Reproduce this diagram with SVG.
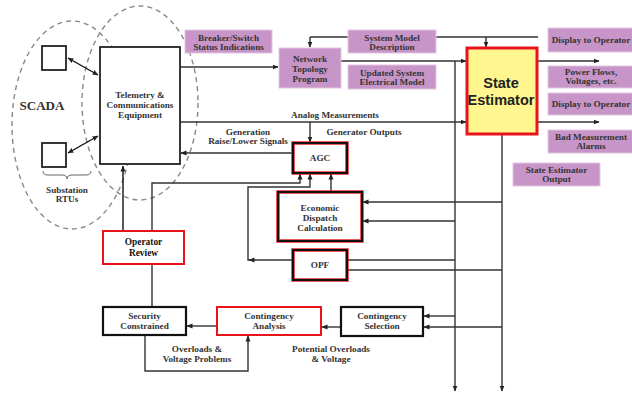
<svg xmlns="http://www.w3.org/2000/svg" width="632" height="394" viewBox="0 0 632 394">
<defs>
<marker id="ah" markerWidth="6" markerHeight="6" refX="5.5" refY="3" orient="auto-start-reverse" markerUnits="userSpaceOnUse"><path d="M0,0.5 L6,3 L0,5.5 z" fill="#222"/></marker>
<style>
.t{font-family:"Liberation Serif","Times New Roman",serif;font-weight:bold;font-size:9.2px;fill:#333;text-anchor:middle}
.tb{font-family:"Liberation Serif","Times New Roman",serif;font-weight:bold;font-size:9.4px;fill:#111;text-anchor:middle}
.p{fill:#c895c8;stroke:#e2c6e2;stroke-width:1}
.c{fill:none;stroke:#333;stroke-width:1.4}
.a{marker-end:url(#ah)}
.bk{fill:#fff;stroke:#111;stroke-width:2.2}
.rd{fill:#fff;stroke:#e8141b;stroke-width:2}
.dash{fill:none;stroke:#888;stroke-width:1.4;stroke-dasharray:5 4}
</style>
</defs>
<rect width="632" height="394" fill="#fff"/>

<g id="scada-ellipses">
<ellipse class="dash" cx="72" cy="125" rx="60" ry="104"/>
<ellipse class="dash" cx="140" cy="103" rx="58" ry="97"/>
</g>

<g id="connectors">
<line x1="68" y1="58" x2="98" y2="75" stroke="#111" stroke-width="1.4" marker-start="url(#ah)" marker-end="url(#ah)"/>
<line x1="68" y1="153" x2="98" y2="136" stroke="#111" stroke-width="1.4" marker-start="url(#ah)" marker-end="url(#ah)"/>
<polyline class="c a" points="180,67 278,67"/>
<polyline class="c" points="310,37 538,37"/>
<polyline class="c a" points="310,37 310,47"/>
<polyline class="c a" points="486,37 486,47"/>
<polyline class="c" points="341,61 455,61"/>
<polyline class="c a" points="455,61 466,61"/>
<polyline class="c a" points="455,61 455,391"/>
<polyline class="c a" points="180,122 466,122"/>
<polyline class="c a" points="310,122 310,142"/>
<polyline class="c a" points="293,153 181,153"/>
<polyline class="c a" points="538,61 599,61"/>
<polyline class="c a" points="538,122 599,122"/>
<polyline class="c a" points="502,134 502,391"/>
<polyline class="c a" points="331,192 331,174"/>
<polyline class="c a" points="152,307 152,183 300,183 300,174"/>
<polyline class="c a" points="293,260 249,260"/>
<polyline class="c a" points="252,260 248,260 248,187 310,187 310,174"/>
<polyline points="123,231 123,166" fill="none" stroke="#111" stroke-width="1.4" marker-end="url(#ah)"/>
<polyline class="c a" points="502,202 363,202"/>
<polyline class="c a" points="455,221 363,221"/>
<polyline class="c" points="455,260 347,260"/>
<polyline class="c" points="502,270 347,270"/>
<polyline class="c a" points="455,316 424,316"/>
<polyline class="c a" points="502,327 424,327"/>
<polyline class="c a" points="341,327 322,327"/>
<polyline class="c a" points="217,326 187,326"/>
<polyline class="c a" points="145,335 145,371 248,371 248,336"/>
</g>

<g id="rtu-top"><rect x="42" y="46" width="24" height="24" fill="#fff" stroke="#222" stroke-width="1.8"/></g>
<g id="rtu-bottom"><rect x="42" y="143" width="24" height="24" fill="#fff" stroke="#222" stroke-width="1.8"/>
<path d="M43,171 Q43,175 48,175 L62,175 Q67,175 67,179 Q67,175 72,175 L86,175 Q91,175 91,171" fill="none" stroke="#666" stroke-width="1"/>
<text class="t" x="67" y="193">Substation</text><text class="t" x="67" y="202">RTUs</text></g>
<g id="scada"><text x="42" y="110" font-family="Liberation Serif,serif" font-weight="bold" font-size="13" fill="#333" text-anchor="middle">SCADA</text></g>

<g id="telemetry"><rect x="100" y="47" width="80" height="117" fill="#fff" stroke="#222" stroke-width="1.8"/>
<text class="t" x="140" y="98">Telemetry &amp;</text><text class="t" x="140" y="108">Communications</text><text class="t" x="140" y="118">Equipment</text></g>

<g id="breaker"><rect class="p" x="185" y="30" width="87" height="23"/><text class="t" x="228.5" y="41">Breaker/Switch</text><text class="t" x="228.5" y="50">Status Indications</text></g>
<g id="network-topology"><rect class="p" x="279" y="48" width="62" height="40"/><text class="t" x="310" y="62">Network</text><text class="t" x="310" y="72">Topology</text><text class="t" x="310" y="82">Program</text></g>
<g id="system-model"><rect class="p" x="348" y="30" width="88" height="23"/><text class="t" x="392" y="41">System Model</text><text class="t" x="392" y="50">Description</text></g>
<g id="updated-model"><rect class="p" x="348" y="65" width="88" height="24"/><text class="t" x="392" y="76">Updated System</text><text class="t" x="392" y="85">Electrical Model</text></g>

<g id="state-estimator"><rect x="467" y="48" width="70" height="86" fill="#fff68f" stroke="#e8141b" stroke-width="3"/>
<text x="501" y="88" font-family="Liberation Sans,Arial,sans-serif" font-weight="bold" font-size="14.5" fill="#222" text-anchor="middle">State</text>
<text x="501" y="105" font-family="Liberation Sans,Arial,sans-serif" font-weight="bold" font-size="14.5" fill="#222" text-anchor="middle">Estimator</text></g>

<g id="display1"><rect class="p" x="548" y="28" width="86" height="24"/><text class="t" x="591" y="43">Display to Operator</text></g>
<g id="power-flows"><rect class="p" x="548" y="66" width="86" height="22"/><text class="t" x="591" y="75">Power Flows,</text><text class="t" x="591" y="84">Voltages, etc.</text></g>
<g id="display2"><rect class="p" x="548" y="93" width="86" height="22"/><text class="t" x="591" y="107">Display to Operator</text></g>
<g id="bad-measurement"><rect class="p" x="548" y="130" width="86" height="23"/><text class="t" x="591" y="140">Bad Measurement</text><text class="t" x="591" y="149">Alarms</text></g>
<g id="se-output"><rect class="p" x="513" y="163" width="87" height="23"/><text class="t" x="556.5" y="173">State Estimator</text><text class="t" x="556.5" y="182">Output</text></g>

<g id="labels">
<text class="t" x="335" y="118">Analog Measurements</text>
<text class="t" x="364" y="135">Generator Outputs</text>
<text class="t" x="248" y="135">Generation</text>
<text class="t" x="248" y="144">Raise/Lower Signals</text>
<text class="t" x="197" y="352">Overloads &amp;</text>
<text class="t" x="197" y="362">Voltage Problems</text>
<text class="t" x="331" y="352">Potential Overloads</text>
<text class="t" x="331" y="362">&amp; Voltage</text>
</g>

<g id="agc"><rect x="293" y="143" width="54" height="30" fill="#fff" stroke="#e8141b" stroke-width="3.4"/><rect x="293" y="143" width="54" height="30" fill="none" stroke="#111" stroke-width="2"/><text class="t" x="320" y="161">AGC</text></g>
<g id="economic-dispatch"><rect x="278" y="192" width="84" height="49" fill="#fff" stroke="#e8141b" stroke-width="3.4"/><rect x="278" y="192" width="84" height="49" fill="none" stroke="#111" stroke-width="2"/><text class="t" x="320" y="211">Economic</text><text class="t" x="320" y="221">Dispatch</text><text class="t" x="320" y="231">Calculation</text></g>
<g id="opf"><rect x="293" y="250" width="54" height="30" fill="#fff" stroke="#e8141b" stroke-width="3.4"/><rect x="293" y="250" width="54" height="30" fill="none" stroke="#111" stroke-width="2"/><text class="t" x="320" y="268">OPF</text></g>

<g id="operator-review"><rect class="rd" x="103" y="231" width="81" height="33"/><text class="tb" x="143.5" y="245">Operator</text><text class="tb" x="143.5" y="256">Review</text></g>
<g id="security"><rect class="bk" x="103" y="307" width="83" height="28"/><text class="t" x="144.5" y="319">Security</text><text class="t" x="144.5" y="329">Constrained</text></g>
<g id="contingency-analysis"><rect class="rd" x="217" y="307" width="104" height="28"/><text class="t" x="269" y="319">Contingency</text><text class="t" x="269" y="329">Analysis</text></g>
<g id="contingency-selection"><rect class="bk" x="341" y="307" width="82" height="29"/><text class="t" x="382" y="319">Contingency</text><text class="t" x="382" y="329">Selection</text></g>
</svg>
